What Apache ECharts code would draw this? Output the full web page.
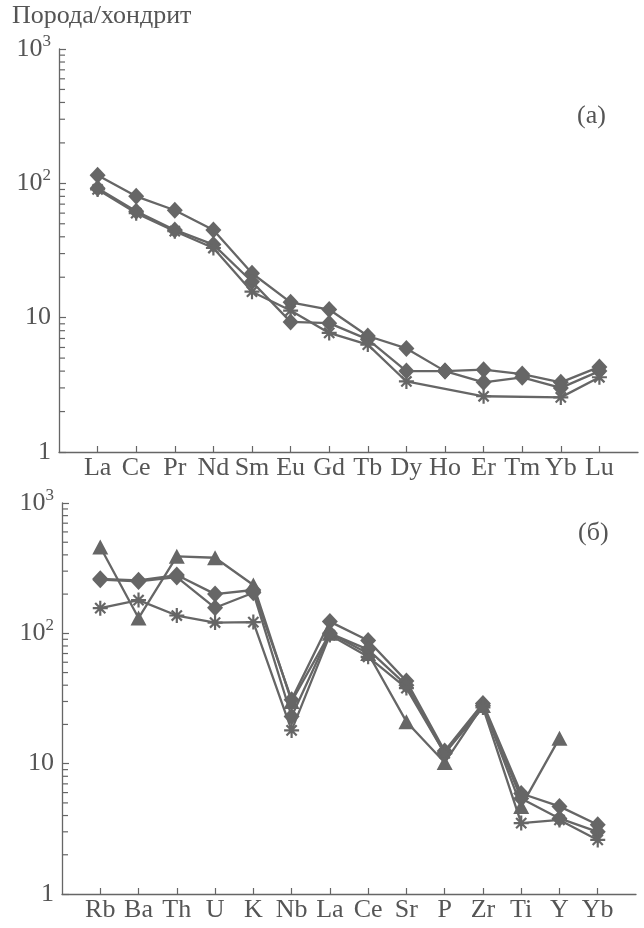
<!DOCTYPE html>
<html>
<head>
<meta charset="utf-8">
<script src="https://cdn.jsdelivr.net/npm/echarts@6/dist/echarts.min.js"></script>
<style>html,body{margin:0;padding:0;background:#fff;}#c{width:644px;height:928px;}</style>
</head>
<body>
<div id="c"></div>
<script>
const yTitle = 'Порода/хондрит';
const panelA = '(а)';
const panelB = '(б)';

// Panel (a): REE, chondrite-normalized
const reeCats = ['La','Ce','Pr','Nd','Sm','Eu','Gd','Tb','Dy','Ho','Er','Tm','Yb','Lu'];
const reeDiamond1 = [115, 80, 63, 45, 21.4, 13.0, 11.5, 7.3, 5.9, 4.0, 4.1, 3.8, 3.3, 4.3];
const reeDiamond2 = [92, 62, 45, 35, 18.5, 9.3, 9.1, 6.9, 4.0, 4.0, 3.3, 3.6, 3.0, 4.0];
const reeStar = [90, 60, 44, 33, 15.6, 11.3, 7.7, 6.3, 3.35, null, 2.6, null, 2.55, 3.6];

// Panel (б): spider diagram
const spCats = ['Rb','Ba','Th','U','K','Nb','La','Ce','Sr','P','Zr','Ti','Y','Yb'];
const spTriangle = [460, 131, 390, 380, 235, 30, 100, 70, 21, 10.2, 28, 4.7, 15.7, null];
const spDiamond1 = [262, 255, 280, 200, 215, 31, 123, 88, 43, 12.5, 29, 5.9, 4.7, 3.4];
const spDiamond2 = [258, 250, 270, 157, 205, 23, 100, 75, 40, 12, 28, 5.4, 3.8, 3.0];
const spStar = [156, 180, 137, 121, 122, 18, 97, 66, 38, 12, 27, 3.5, 3.7, 2.6];

const yTickLabels = {1: '1', 10: '10', 100: '{b|10}{s|2}', 1000: '{b|10}{s|3}'};
const decades = [1, 10, 100];

const INK = '#666';
const TXT = '#555';
const FONT = 'Liberation Serif';
const FS = 26;

const minorTicks = [];
decades.forEach(d => { for (let m = 2; m <= 9; m++) minorTicks.push(d * m); });

function padCats(c) { return ['_s'].concat(c, ['_e']); }
function toData(vals) {
  const out = [];
  vals.forEach((v, i) => { if (v !== null) out.push([i + 1, v]); });
  return out;
}
const starPath = 'path://M0,5L10,5M5,0L5,10M1.6,1.6L8.4,8.4M8.4,1.6L1.6,8.4';

function lineSeries(vals, g, kind) {
  const s = {
    type: 'line', xAxisIndex: g, yAxisIndex: g, data: toData(vals),
    lineStyle: {color: INK, width: 2.3}, z: 3, silent: true, animation: false
  };
  if (kind === 'diamond') {
    s.symbol = 'diamond'; s.symbolSize = [16, 17];
    s.itemStyle = {color: INK};
  } else if (kind === 'triangle') {
    s.symbol = 'triangle'; s.symbolSize = [16, 15];
    s.itemStyle = {color: INK};
  } else {
    s.symbol = starPath; s.symbolSize = [15, 15]; s.symbolKeepAspect = true;
    s.itemStyle = {color: 'rgba(0,0,0,0)', borderColor: INK, borderWidth: 2.2};
  }
  return s;
}

function minorSeries(g) {
  return {
    type: 'custom', xAxisIndex: g, yAxisIndex: g, silent: true, clip: false, z: 2,
    animation: false,
    data: minorTicks.map(v => [0, v]),
    renderItem: function (params, api) {
      const p = api.coord([api.value(0), api.value(1)]);
      return {type: 'line', shape: {x1: p[0], y1: p[1], x2: p[0] + 6, y2: p[1]},
              style: {stroke: INK, lineWidth: 1.2}};
    }
  };
}

function xAxis(g, cats) {
  return {
    type: 'category', gridIndex: g, data: padCats(cats), boundaryGap: false,
    axisLine: {lineStyle: {color: INK, width: 1.3}},
    axisTick: {inside: true, length: 6, lineStyle: {color: INK, width: 1.2},
               interval: function (i) { return i > 0 && i <= cats.length; }},
    axisLabel: {interval: 0, margin: 3, color: TXT, fontFamily: FONT, fontSize: FS,
                formatter: v => (v.charAt(0) === '_' ? '' : v)},
    splitLine: {show: false}
  };
}
function yAxis(g) {
  return {
    type: 'log', logBase: 10, gridIndex: g, min: 1, max: 1000, splitNumber: 3,
    axisLine: {show: true, lineStyle: {color: INK, width: 1.3}},
    axisTick: {show: true, inside: true, length: 7, lineStyle: {color: INK, width: 1.2}},
    axisLabel: {margin: 8, color: TXT, fontFamily: FONT, fontSize: FS,
      formatter: v => yTickLabels[Math.round(v)] || '',
      rich: {b: {fontSize: FS, fontFamily: FONT, color: TXT},
             s: {fontSize: 17, fontFamily: FONT, color: TXT, padding: [0, 0, 15, 0]}}},
    splitLine: {show: false}
  };
}

const chart = echarts.init(document.getElementById('c'), null, {renderer: 'canvas'});
chart.setOption({
  animation: false,
  backgroundColor: '#fff',
  grid: [
    {left: 59, top: 49, width: 579, height: 403},
    {left: 62, top: 503, width: 574, height: 391}
  ],
  xAxis: [xAxis(0, reeCats), xAxis(1, spCats)],
  yAxis: [yAxis(0), yAxis(1)],
  graphic: [
    {type: 'text', left: 12, top: 3, style: {text: yTitle, fill: TXT, font: '26px "Liberation Serif"'}},
    {type: 'text', left: 577, top: 103, style: {text: panelA, fill: TXT, font: '26px "Liberation Serif"'}},
    {type: 'text', left: 578, top: 520, style: {text: panelB, fill: TXT, font: '26px "Liberation Serif"'}}
  ],
  series: [
    minorSeries(0), minorSeries(1),
    lineSeries(reeDiamond1, 0, 'diamond'),
    lineSeries(reeDiamond2, 0, 'diamond'),
    lineSeries(reeStar, 0, 'star'),
    lineSeries(spTriangle, 1, 'triangle'),
    lineSeries(spDiamond1, 1, 'diamond'),
    lineSeries(spDiamond2, 1, 'diamond'),
    lineSeries(spStar, 1, 'star')
  ]
});
</script>
</body>
</html>
